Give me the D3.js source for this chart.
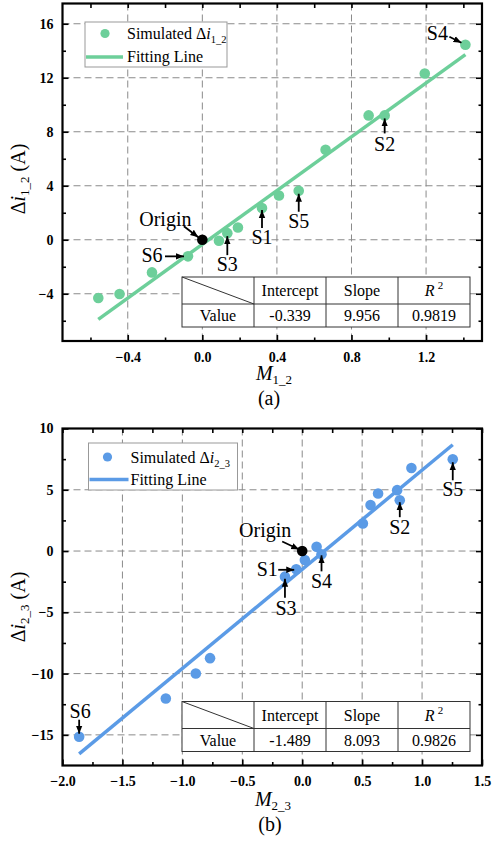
<!DOCTYPE html>
<html>
<head>
<meta charset="utf-8">
<script src="https://cdn.jsdelivr.net/npm/d3@7"></script>
<style>
  html, body { margin: 0; padding: 0; background: #fff; }
  svg { display: block; }
</style>
</head>
<body>
<svg id="chart" width="492" height="843" font-family="'Liberation Serif', 'Times New Roman', serif"></svg>
<script>
// ---- panel (a) data ----
const m12 = [-0.558, -0.444, -0.270, -0.077, 0.089, 0.134, 0.191, 0.320, 0.411, 0.517, 0.661, 0.892, 0.978, 1.193, 1.411];
const di12 = [-4.32, -4.02, -2.42, -1.23, -0.07, 0.49, 0.91, 2.35, 3.28, 3.63, 6.67, 9.21, 9.21, 12.32, 14.44];
const fit12 = [-0.339, 9.956, 0.9819];           // intercept, slope, R^2
const xTicks12 = [-0.4, 0, 0.4, 0.8, 1.2];
const xMinor12 = [-0.6, -0.2, 0.2, 0.6, 1.0, 1.4];
const yTicks12 = [-4, 0, 4, 8, 12, 16];
const yMinor12 = [-6, -2, 2, 6, 10, 14];
const labels12 = ['S4', 'S2', 'S5', 'S1', 'S3', 'S6'];
const labelIdx12 = [14, 12, 9, 7, 5, 3];

// ---- panel (b) data ----
const m23 = [-1.861, -1.138, -0.888, -0.769, -0.144, -0.050, 0.022, 0.120, 0.161, 0.506, 0.570, 0.633, 0.792, 0.814, 0.911, 1.256];
const di23 = [-15.15, -12.03, -9.99, -8.74, -2.09, -1.49, -0.73, 0.35, -0.27, 2.25, 3.75, 4.70, 4.97, 4.15, 6.78, 7.49];
const fit23 = [-1.489, 8.093, 0.9826];
const xTicks23 = [-2.0, -1.5, -1.0, -0.5, 0, 0.5, 1.0, 1.5];
const xMinor23 = [-1.75, -1.25, -0.75, -0.25, 0.25, 0.75, 1.25];
const yTicks23 = [-15, -10, -5, 0, 5, 10];
const yMinor23 = [-12.5, -7.5, -2.5, 2.5, 7.5];
const labels23 = ['S5', 'S2', 'S4', 'S3', 'S1', 'S6'];
const labelIdx23 = [15, 13, 8, 4, 5, 0];

const origin = [0, 0];
const tableHead = ['Intercept', 'Slope', 'R'];
const tableRowName = 'Value';

const FONT = "'Liberation Serif', 'Times New Roman', serif";
const svg = d3.select('#chart');

svg.append('defs').append('marker')
  .attr('id', 'arrowhead')
  .attr('viewBox', '0 0 10 10')
  .attr('refX', 10)
  .attr('refY', 5)
  .attr('markerUnits', 'userSpaceOnUse')
  .attr('markerWidth', 8)
  .attr('markerHeight', 8)
  .attr('orient', 'auto')
  .append('path')
  .attr('d', 'M0,1 L10,5 L0,9 Z')
  .attr('fill', '#000');

function drawPanel(p) {
  const x = d3.scaleLinear().domain(p.xDomain).range([p.left, p.right]);
  const y = d3.scaleLinear().domain(p.yDomain).range([p.bottom, p.top]);
  const g = svg.append('g').attr('font-family', FONT);

  const inX = d => d > p.xDomain[0] + 1e-9 && d < p.xDomain[1] - 1e-9;
  const inY = d => d > p.yDomain[0] + 1e-9 && d < p.yDomain[1] - 1e-9;

  // dashed grid
  const grid = g.append('g')
    .attr('stroke', '#8a8a8a')
    .attr('stroke-width', 1)
    .attr('stroke-dasharray', '7,4');
  grid.selectAll('.gx').data(p.xTicks.filter(inX)).join('line')
    .attr('class', 'gx')
    .attr('x1', d => x(d)).attr('x2', d => x(d))
    .attr('y1', p.top).attr('y2', p.bottom);
  grid.selectAll('.gy').data(p.yTicks.filter(inY)).join('line')
    .attr('class', 'gy')
    .attr('x1', p.left).attr('x2', p.right)
    .attr('y1', d => y(d)).attr('y2', d => y(d));

  // legend
  const lg = g.append('g').attr('transform', `translate(${p.left + p.legend.x},${p.top + p.legend.y})`);
  lg.append('rect')
    .attr('width', p.legend.w).attr('height', p.legend.h)
    .attr('fill', '#fff').attr('stroke', '#999').attr('stroke-width', 1);
  lg.append('circle')
    .attr('cx', p.legend.mx).attr('cy', p.legend.my).attr('r', 4.6)
    .attr('fill', p.color);
  lg.append('line')
    .attr('x1', p.legend.lx1).attr('x2', p.legend.lx2)
    .attr('y1', p.legend.ly).attr('y2', p.legend.ly)
    .attr('stroke', p.color).attr('stroke-width', 3.5);
  const t1 = lg.append('text')
    .attr('x', p.legend.tx).attr('y', p.legend.t1y)
    .attr('font-size', 16);
  t1.append('tspan').text('Simulated Δ');
  t1.append('tspan').attr('font-style', 'italic').text('i');
  t1.append('tspan').attr('font-size', 10.5).attr('dy', 4).text(p.sub);
  lg.append('text')
    .attr('x', p.legend.tx).attr('y', p.legend.t2y)
    .attr('font-size', 16)
    .text('Fitting Line');

  // fitting line over the span of the data
  const [b0, b1, r2] = p.fit;
  const xr = d3.extent(p.xs);
  g.append('path')
    .datum(xr)
    .attr('fill', 'none')
    .attr('stroke', p.color)
    .attr('stroke-width', 3.5)
    .attr('d', d3.line().x(d => x(d)).y(d => y(b0 + b1 * d)));

  // points
  g.selectAll('.pt').data(p.xs.map((v, i) => [v, p.ys[i]])).join('circle')
    .attr('class', 'pt')
    .attr('cx', d => x(d[0])).attr('cy', d => y(d[1]))
    .attr('r', 5.3)
    .attr('fill', p.color);

  g.append('circle')
    .attr('cx', x(origin[0])).attr('cy', y(origin[1]))
    .attr('r', 5.3).attr('fill', '#000');

  // table
  const colW = 72, rowH = [27, 23];
  const tx = p.right - 12 - colW * 4, ty = p.bottom - 14 - rowH[0] - rowH[1];
  const tb = g.append('g').attr('transform', `translate(${tx},${ty})`);
  tb.append('rect').attr('width', colW * 4).attr('height', rowH[0] + rowH[1])
    .attr('fill', '#fff').attr('stroke', '#333').attr('stroke-width', 1);
  tb.append('line').attr('x1', 0).attr('x2', colW * 4).attr('y1', rowH[0]).attr('y2', rowH[0])
    .attr('stroke', '#333');
  [1, 2, 3].forEach(c => tb.append('line')
    .attr('x1', c * colW).attr('x2', c * colW).attr('y1', 0).attr('y2', rowH[0] + rowH[1])
    .attr('stroke', '#333'));
  tb.append('line').attr('x1', 0).attr('y1', 0).attr('x2', colW).attr('y2', rowH[0])
    .attr('stroke', '#333');
  tableHead.forEach((h, c) => {
    const t = tb.append('text')
      .attr('x', (c + 1.5) * colW).attr('y', 19)
      .attr('text-anchor', 'middle').attr('font-size', 16);
    if (h === 'R') {
      t.append('tspan').attr('font-style', 'italic').text('R');
      t.append('tspan').attr('font-size', 11).attr('dy', -7).attr('dx', 3).text('2');
    } else {
      t.text(h);
    }
  });
  const vals = [tableRowName, b0.toFixed(3), b1.toFixed(3), r2.toFixed(4)];
  vals.forEach((v, c) => tb.append('text')
    .attr('x', (c + 0.5) * colW).attr('y', rowH[0] + 17)
    .attr('text-anchor', 'middle').attr('font-size', 16)
    .text(v));

  // axes (ticks inside)
  const styleAxis = sel => {
    sel.attr('font-family', FONT);
    sel.select('.domain').remove();
    sel.selectAll('.tick line').attr('stroke', '#000').attr('stroke-width', 1.6);
    sel.selectAll('.tick text')
      .attr('font-size', 14).attr('font-weight', 'bold').attr('fill', '#000');
  };
  const ax = g.append('g');
  ax.append('g').attr('transform', `translate(0,${p.bottom})`)
    .call(d3.axisBottom(x).tickValues(p.xTicks).tickSize(-6).tickSizeOuter(0).tickPadding(11).tickFormat(p.xFmt))
    .call(styleAxis);
  ax.append('g').attr('transform', `translate(0,${p.bottom})`)
    .call(d3.axisBottom(x).tickValues(p.xMinor).tickSize(-3.5).tickSizeOuter(0).tickFormat(''))
    .call(styleAxis);
  ax.append('g').attr('transform', `translate(0,${p.top})`)
    .call(d3.axisTop(x).tickValues(p.xTicks.concat(p.xMinor)).tickSize(-4.5).tickSizeOuter(0).tickFormat(''))
    .call(styleAxis);
  ax.append('g').attr('transform', `translate(${p.left},0)`)
    .call(d3.axisLeft(y).tickValues(p.yTicks).tickSize(-6).tickSizeOuter(0).tickPadding(9).tickFormat(d3.format('d')))
    .call(styleAxis);
  ax.append('g').attr('transform', `translate(${p.left},0)`)
    .call(d3.axisLeft(y).tickValues(p.yMinor).tickSize(-3.5).tickSizeOuter(0).tickFormat(''))
    .call(styleAxis);
  ax.append('g').attr('transform', `translate(${p.right},0)`)
    .call(d3.axisRight(y).tickValues(p.yTicks).tickSize(-6).tickSizeOuter(0).tickFormat(''))
    .call(styleAxis);
  ax.append('g').attr('transform', `translate(${p.right},0)`)
    .call(d3.axisRight(y).tickValues(p.yMinor).tickSize(-3.5).tickSizeOuter(0).tickFormat(''))
    .call(styleAxis);

  g.append('rect')
    .attr('x', p.left).attr('y', p.top)
    .attr('width', p.right - p.left).attr('height', p.bottom - p.top)
    .attr('fill', 'none').attr('stroke', '#000').attr('stroke-width', 2.2);

  // annotations: arrow + label, offsets relative to the marked point
  const ann = p.labels.map((lab, i) => ({
    lab, px: x(p.xs[p.labelIdx[i]]), py: y(p.ys[p.labelIdx[i]]), o: p.annot[lab]
  }));
  ann.push({ lab: 'Origin', px: x(origin[0]), py: y(origin[1]), o: p.annot.Origin });
  ann.forEach(a => {
    g.append('line')
      .attr('x1', a.px + a.o.a[0]).attr('y1', a.py + a.o.a[1])
      .attr('x2', a.px + a.o.a[2]).attr('y2', a.py + a.o.a[3])
      .attr('stroke', '#000').attr('stroke-width', 1.8)
      .attr('marker-end', 'url(#arrowhead)');
    g.append('text')
      .attr('x', a.px + a.o.t[0]).attr('y', a.py + a.o.t[1])
      .attr('text-anchor', 'middle').attr('font-size', 20)
      .text(a.lab);
  });

  // axis titles
  const xt = g.append('text')
    .attr('x', p.xTitle[0]).attr('y', p.xTitle[1])
    .attr('text-anchor', 'middle').attr('font-size', 20);
  xt.append('tspan').attr('font-style', 'italic').text('M');
  xt.append('tspan').attr('font-size', 13).attr('dy', 4).text(p.sub);

  const yt = g.append('text')
    .attr('transform', `translate(${p.yTitle[0]},${p.yTitle[1]}) rotate(-90)`)
    .attr('text-anchor', 'middle').attr('font-size', 20);
  yt.append('tspan').text('Δ');
  yt.append('tspan').attr('font-style', 'italic').text('i');
  yt.append('tspan').attr('font-size', 13).attr('dy', 4).text(p.sub);
  yt.append('tspan').attr('dy', -4).text(' (A)');

  g.append('text')
    .attr('x', p.caption[0]).attr('y', p.caption[1])
    .attr('text-anchor', 'middle').attr('font-size', 20)
    .text(p.captionText);
}

drawPanel({
  xs: m12, ys: di12, fit: fit12, sub: '1_2', color: '#6dcf9a',
  xDomain: [-0.75, 1.5], yDomain: [-7.5, 17.5],
  left: 62.5, right: 482, top: 3.5, bottom: 341,
  xTicks: xTicks12, xMinor: xMinor12, yTicks: yTicks12, yMinor: yMinor12,
  xFmt: d3.format('.1f'),
  labels: labels12, labelIdx: labelIdx12,
  legend: { x: 22.5, y: 18.5, w: 142, h: 45, mx: 20, my: 11.5, lx1: 1, lx2: 38, ly: 35, tx: 42, t1y: 17, t2y: 40 },
  annot: {
    S4: { t: [-28, -5], a: [-16, -8, -4, -2] },
    S2: { t: [0, 36], a: [0, 18, 0, 3] },
    S5: { t: [0, 37], a: [0, 21, 0, 3] },
    S1: { t: [0, 36], a: [0, 20, 0, 2] },
    S3: { t: [0, 38], a: [0, 22, 0, 3] },
    S6: { t: [-36, 5.5], a: [-23, 0, -4, 0] },
    Origin: { t: [-37, -14], a: [-18.5, -13.5, -4, -2.5] }
  },
  xTitle: [274, 380], yTitle: [25, 179], caption: [269, 405], captionText: '(a)'
});

drawPanel({
  xs: m23, ys: di23, fit: fit23, sub: '2_3', color: '#5b9be6',
  xDomain: [-2, 1.5], yDomain: [-17.5, 10],
  left: 62.5, right: 482, top: 428.5, bottom: 765.5,
  xTicks: xTicks23, xMinor: xMinor23, yTicks: yTicks23, yMinor: yMinor23,
  xFmt: d3.format('.1f'),
  labels: labels23, labelIdx: labelIdx23,
  legend: { x: 26, y: 14.5, w: 149, h: 47, mx: 19, my: 14, lx1: 1, lx2: 40, ly: 36.5, tx: 42, t1y: 20, t2y: 41.5 },
  annot: {
    S5: { t: [0, 37], a: [0, 21, 0, 3] },
    S2: { t: [0, 34], a: [0, 17, 0, 2] },
    S4: { t: [0, 34], a: [0, 17, 0, 1] },
    S3: { t: [1, 38], a: [0, 21, 0, 2] },
    S1: { t: [-29, 7], a: [-18, 0.5, -2, 0.5] },
    S6: { t: [1, -19], a: [0, -17, 0, -3] },
    Origin: { t: [-37, -14], a: [-20, -9.5, -3, -1.5] }
  },
  xTitle: [273, 806], yTitle: [25, 607], caption: [270, 831], captionText: '(b)'
});
</script>
</body>
</html>
